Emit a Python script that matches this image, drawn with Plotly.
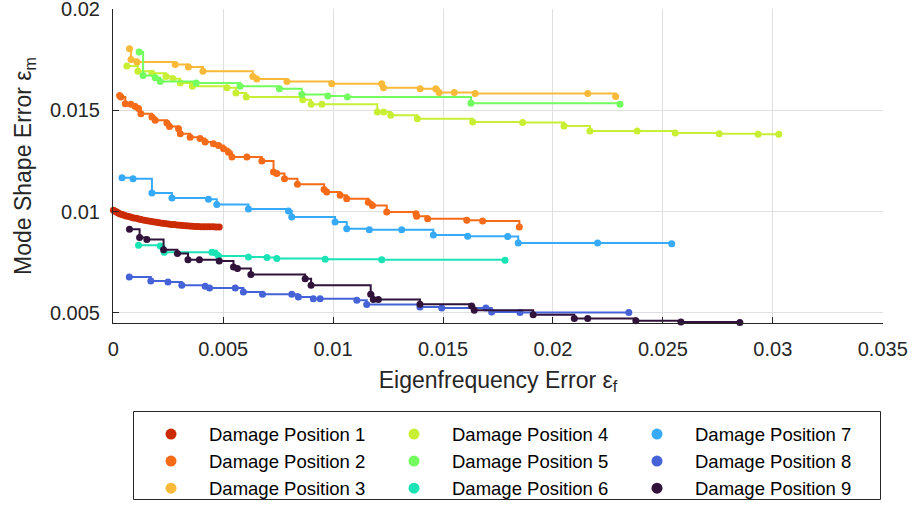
import plotly.graph_objects as go

# Eigenfrequency error (x) and mode shape error (y) of the Pareto fronts
ef_1 = [0.00001, 0.00009, 0.00016, 0.00023, 0.00032, 0.00041, 0.00050, 0.00059, 0.00071, 0.00082,
        0.00093, 0.00105, 0.00116, 0.00127, 0.00141, 0.00155, 0.00168, 0.00182, 0.00196, 0.00209,
        0.00223, 0.00236, 0.00250, 0.00264, 0.00277, 0.00291, 0.00305, 0.00318, 0.00332, 0.00346,
        0.00359, 0.00373, 0.00386, 0.00400, 0.00414, 0.00427, 0.00441, 0.00455, 0.00468, 0.00482]
em_1 = [0.01007, 0.01002, 0.00998, 0.00993, 0.00989, 0.00986, 0.00982, 0.00979, 0.00976, 0.00972,
        0.00969, 0.00967, 0.00964, 0.00961, 0.00958, 0.00955, 0.00953, 0.00950, 0.00948, 0.00945,
        0.00943, 0.00941, 0.00939, 0.00937, 0.00936, 0.00934, 0.00933, 0.00931, 0.00930, 0.00929,
        0.00928, 0.00927, 0.00927, 0.00926, 0.00926, 0.00925, 0.00925, 0.00925, 0.00924, 0.00924]

ef_2 = [0.00029, 0.00035, 0.00055, 0.00080, 0.00100, 0.00115, 0.00126, 0.00176, 0.00191, 0.00244,
        0.00256, 0.00297, 0.00305, 0.00350, 0.00395, 0.00418, 0.00456, 0.00479, 0.00502, 0.00524,
        0.00540, 0.00608, 0.00676, 0.00729, 0.00744, 0.00779, 0.00838, 0.00959, 0.00971, 0.01032,
        0.01062, 0.01160, 0.01179, 0.01244, 0.01377, 0.01380, 0.01430, 0.01608, 0.01680, 0.01847]
em_2 = [0.01574, 0.01566, 0.01533, 0.01530, 0.01520, 0.01509, 0.01484, 0.01467, 0.01451, 0.01438,
        0.01421, 0.01410, 0.01385, 0.01368, 0.01361, 0.01344, 0.01336, 0.01327, 0.01311, 0.01294,
        0.01270, 0.01270, 0.01250, 0.01196, 0.01188, 0.01163, 0.01135, 0.01109, 0.01097, 0.01081,
        0.01064, 0.01047, 0.01031, 0.00998, 0.00990, 0.00977, 0.00965, 0.00957, 0.00954, 0.00924]

ef_3 = [0.00074, 0.00081, 0.00108, 0.00282, 0.00342, 0.00408, 0.00635, 0.00653, 0.00790, 0.00994,
        0.01221, 0.01229, 0.01396, 0.01467, 0.01482, 0.01551, 0.01646, 0.02158, 0.02285]
em_3 = [0.01805, 0.01752, 0.01739, 0.01727, 0.01714, 0.01693, 0.01668, 0.01655, 0.01643, 0.01632,
        0.01632, 0.01612, 0.01607, 0.01607, 0.01588, 0.01588, 0.01583, 0.01583, 0.01569]

ef_4 = [0.00062, 0.00112, 0.00176, 0.00240, 0.00271, 0.00305, 0.00360, 0.00517, 0.00558, 0.00605,
        0.00862, 0.00900, 0.00949, 0.01201, 0.01230, 0.01262, 0.01383, 0.01635, 0.01862, 0.02050,
        0.02168, 0.02383, 0.02556, 0.02756, 0.02933, 0.03027]
em_4 = [0.01719, 0.01694, 0.01684, 0.01668, 0.01657, 0.01635, 0.01619, 0.01612, 0.01586, 0.01566,
        0.01553, 0.01530, 0.01530, 0.01492, 0.01492, 0.01476, 0.01459, 0.01443, 0.01440, 0.01423,
        0.01398, 0.01398, 0.01388, 0.01385, 0.01382, 0.01382]

ef_5 = [0.00118, 0.00136, 0.00191, 0.00214, 0.00377, 0.00577, 0.00756, 0.00858, 0.00976, 0.01065,
        0.01627, 0.02305]
em_5 = [0.01788, 0.01673, 0.01662, 0.01643, 0.01635, 0.01619, 0.01607, 0.01579, 0.01571, 0.01566,
        0.01536, 0.01530]

ef_6 = [0.00115, 0.00214, 0.00232, 0.00449, 0.00464, 0.00479, 0.00615, 0.00699, 0.00744, 0.00964,
        0.01221, 0.01782]
em_6 = [0.00834, 0.00830, 0.00799, 0.00799, 0.00796, 0.00781, 0.00776, 0.00773, 0.00768, 0.00765,
        0.00763, 0.00760]

ef_7 = [0.00040, 0.00090, 0.00176, 0.00267, 0.00433, 0.00471, 0.00615, 0.00797, 0.00812, 0.01009,
        0.01062, 0.01165, 0.01312, 0.01456, 0.01612, 0.01794, 0.01842, 0.02203, 0.02540]
em_7 = [0.01168, 0.01163, 0.01092, 0.01067, 0.01061, 0.01035, 0.01013, 0.01003, 0.00973, 0.00949,
        0.00916, 0.00911, 0.00911, 0.00885, 0.00878, 0.00877, 0.00845, 0.00845, 0.00842]

ef_8 = [0.00073, 0.00171, 0.00249, 0.00312, 0.00418, 0.00438, 0.00555, 0.00592, 0.00679, 0.00812,
        0.00842, 0.00910, 0.00941, 0.01108, 0.01153, 0.01395, 0.01494, 0.01695, 0.01721, 0.01850,
        0.02345]
em_8 = [0.00677, 0.00657, 0.00652, 0.00636, 0.00631, 0.00623, 0.00623, 0.00603, 0.00592, 0.00592,
        0.00578, 0.00570, 0.00570, 0.00562, 0.00541, 0.00529, 0.00524, 0.00524, 0.00504, 0.00502,
        0.00502]

ef_9 = [0.00074, 0.00120, 0.00153, 0.00229, 0.00292, 0.00340, 0.00392, 0.00482, 0.00547, 0.00565,
        0.00626, 0.00873, 0.00900, 0.01171, 0.01183, 0.01206, 0.01395, 0.01630, 0.01642, 0.01910,
        0.02097, 0.02158, 0.02377, 0.02582, 0.02850]
em_9 = [0.00913, 0.00872, 0.00862, 0.00812, 0.00793, 0.00763, 0.00763, 0.00756, 0.00726, 0.00719,
        0.00689, 0.00669, 0.00636, 0.00592, 0.00566, 0.00566, 0.00542, 0.00534, 0.00513, 0.00491,
        0.00472, 0.00472, 0.00461, 0.00455, 0.00452]

series_names = [f"Damage Position {k}" for k in range(1, 10)]
series_colors = ["#CB2A04", "#F66B19", "#FABA39", "#C8EF34", "#72FE5E",
                 "#1AE4B6", "#36AAF9", "#4662D7", "#30123B"]
x_ticks = [0, 0.005, 0.01, 0.015, 0.02, 0.025, 0.03, 0.035]
y_ticks = [0.005, 0.01, 0.015, 0.02]

fronts = [(ef_1, em_1), (ef_2, em_2), (ef_3, em_3), (ef_4, em_4), (ef_5, em_5),
          (ef_6, em_6), (ef_7, em_7), (ef_8, em_8), (ef_9, em_9)]

FONT = "Liberation Sans, Arial, Helvetica, sans-serif"
AXIS_COL = "#262626"
GRID_COL = "#dfdfdf"

fig = go.Figure()

# staircase Pareto fronts
for (xs, ys), col in zip(fronts, series_colors):
    fig.add_trace(go.Scatter(
        x=xs, y=ys, mode="lines+markers",
        line=dict(color=col, width=2, shape="hv"),
        marker=dict(color=col, size=7),
        cliponaxis=False, showlegend=False, hoverinfo="skip",
    ))

# legend entries: dots only, filled column by column (3 rows x 3 columns)
for k, (name, col) in enumerate(zip(series_names, series_colors)):
    row, column = k % 3, k // 3
    fig.add_trace(go.Scatter(
        x=[None], y=[None], mode="markers", name=name,
        marker=dict(color=col, size=11),
        legendrank=row * 3 + column + 1,
    ))

# plot area spans x 113..883 px and y 9..323 px
def px_x(p):
    return (p - 113) / 770.0

def px_y(p):
    return (323 - p) / 314.0

fig.add_shape(type="rect", xref="paper", yref="paper",
              x0=px_x(133.5), x1=px_x(880.5), y0=px_y(499.5), y1=px_y(411.5),
              line=dict(color=AXIS_COL, width=1), fillcolor="rgba(0,0,0,0)")

fig.update_layout(
    width=914, height=507,
    margin=dict(l=113, r=31, t=9, b=184, autoexpand=False),
    paper_bgcolor="white", plot_bgcolor="white",
    font=dict(family=FONT, color=AXIS_COL),
    legend=dict(
        orientation="h", x=px_x(133), xanchor="left", y=px_y(415.5), yanchor="top",
        itemwidth=66, entrywidth=162, entrywidthmode="pixels",
        font=dict(family=FONT, size=18.5, color="#000000"),
        bgcolor="rgba(0,0,0,0)", borderwidth=0, traceorder="normal",
    ),
    xaxis=dict(
        range=[-0.00001, 0.03501], tickvals=x_ticks,
        ticktext=["0", "0.005", "0.01", "0.015", "0.02", "0.025", "0.03", "0.035"],
        showgrid=True, gridcolor=GRID_COL, gridwidth=1, zeroline=False,
        showline=True, linecolor=AXIS_COL, linewidth=1,
        ticks="inside", ticklen=6, tickcolor=AXIS_COL, tickwidth=1,
        tickfont=dict(family=FONT, size=20, color=AXIS_COL), ticklabelstandoff=8,
        ticklabeloverflow="allow",
        title=dict(text="Eigenfrequency Error ε<sub>f</sub>",
                   font=dict(family=FONT, size=23, color=AXIS_COL), standoff=12),
    ),
    yaxis=dict(
        range=[0.0045, 0.02001], tickvals=y_ticks,
        ticktext=["0.005", "0.01", "0.015", "0.02"],
        showgrid=True, gridcolor=GRID_COL, gridwidth=1, zeroline=False,
        showline=True, linecolor=AXIS_COL, linewidth=1,
        ticks="inside", ticklen=6, tickcolor=AXIS_COL, tickwidth=1,
        tickfont=dict(family=FONT, size=20, color=AXIS_COL), ticklabelstandoff=8,
        ticklabeloverflow="allow",
        title=dict(text="Mode Shape Error ε<sub>m</sub>",
                   font=dict(family=FONT, size=23, color=AXIS_COL), standoff=11),
    ),
)

fig.write_html("out.html")
